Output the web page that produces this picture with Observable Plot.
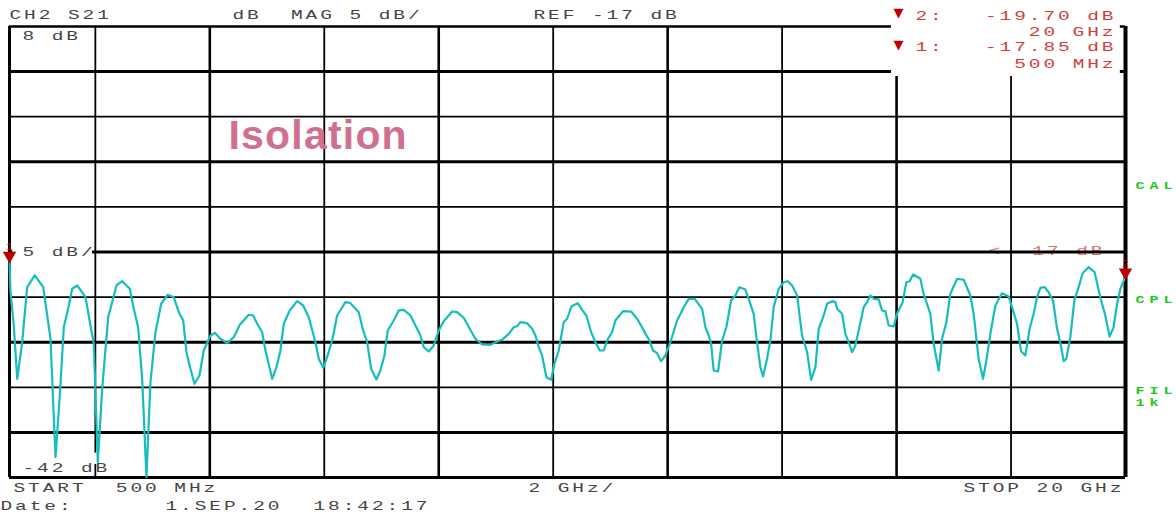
<!DOCTYPE html>
<html><head><meta charset="utf-8">
<script src="https://cdn.jsdelivr.net/npm/d3@7"></script>
<script src="https://cdn.jsdelivr.net/npm/@observablehq/plot@0.6"></script>
<style>
html,body{margin:0;padding:0;background:#fff;overflow:hidden}
#chart svg{display:block;background:#fff}
</style>
</head><body><div id="chart"></div>
<script>
// Frequency (GHz) and S21 magnitude (dB)
const freqGHz = [0.5,0.517,0.575,0.635,0.722,0.809,0.942,1.089,1.216,1.304,1.379,1.449,1.536,1.595,1.683,1.828,1.915,1.973,2.043,2.120,2.224,2.294,2.369,2.469,2.602,2.672,2.748,2.818,2.893,2.963,3.051,3.150,3.266,3.370,3.458,3.535,3.592,3.662,3.732,3.819,3.894,4.011,4.087,4.186,4.303,4.419,4.524,
4.681,4.758,4.828,4.915,4.972,5.090,5.165,5.234,5.292,5.397,5.526,5.631,5.729,5.846,5.904,5.981,6.050,6.138,6.225,6.370,6.457,6.602,6.679,6.749,6.819,6.911,6.981,7.051,7.109,7.214,7.301,7.389,7.506,7.593,7.680,7.738,7.825,7.913,8.000,8.087,8.234,8.321,8.437,8.542,
8.641,8.758,8.903,9.021,9.108,9.223,9.311,9.370,9.427,9.545,9.632,9.690,9.747,9.806,9.882,9.964,10.021,10.097,10.184,10.244,10.318,10.428,10.505,10.580,10.663,10.738,10.813,10.883,10.942,11.029,11.087,11.221,11.361,11.466,11.553,11.611,11.669,11.746,11.815,11.885,11.961,12.048,12.165,12.281,12.368,12.473,
12.602,12.660,12.718,12.759,12.805,12.881,12.951,13.026,13.108,13.183,13.253,13.358,13.416,13.503,13.562,13.620,13.667,13.737,13.795,13.853,13.940,14.028,14.098,14.174,14.262,14.349,14.437,14.507,14.582,14.640,14.717,14.786,14.874,14.932,14.961,15.048,15.105,15.163,15.223,15.280,15.338,15.425,15.485,15.542,15.600,15.687,15.746,15.804,15.862,15.949,16.008,16.106,
16.171,16.228,16.288,16.416,16.473,16.590,16.648,16.736,16.795,16.870,16.940,17.057,17.173,17.289,17.347,17.434,17.511,17.569,17.639,17.726,17.843,17.958,18.017,18.105,18.175,18.250,18.325,18.395,18.454,18.512,18.587,18.657,18.734,18.804,18.861,18.919,18.966,19.036,19.106,19.181,19.251,19.355,19.460,19.560,19.647,19.722,19.792,19.852,19.910,20.0];
const magDB = [-17.85,-21.46,-25.15,-31.06,-27.0,-20.90,-19.60,-20.90,-26.59,-39.75,-32.91,-25.34,-22.93,-21.08,-20.71,-22.01,-25.15,-27.18,-40.30,-32.13,-24.23,-22.56,-20.71,-20.24,-21.08,-23.30,-25.34,-31.06,-41.96,-31.43,-25.89,-22.74,-21.74,-22.01,-23.67,-24.59,-28.11,-29.95,-31.61,-30.69,-27.92,-26.26,-25.96,-26.62,-27.11,-26.44,-25.07,
-23.96,-24.04,-24.96,-25.89,-27.92,-31.06,-29.77,-27.92,-24.96,-23.48,-22.45,-22.93,-24.23,-27.0,-28.84,-29.84,-28.66,-26.81,-24.04,-22.56,-22.67,-23.67,-25.70,-27.0,-29.95,-31.13,-30.14,-28.47,-25.70,-24.59,-23.48,-23.41,-24.04,-25.15,-26.26,-27.55,-28.03,-27.36,-25.70,-24.67,-23.60,-23.67,-24.29,-25.51,
-26.62,-27.25,-27.29,-26.92,-26.73,-26.07,-25.34,-25.22,-24.78,-24.89,-25.51,-26.26,-27.55,-28.47,-30.88,-31.17,-29.39,-27.92,-24.78,-24.40,-23.04,-22.67,-23.41,-24.04,-25.89,-27.0,-27.92,-27.92,-26.81,-25.89,-24.59,-23.56,-23.60,-24.40,-25.34,-26.07,-26.62,-27.92,-28.22,-29.10,-28.47,-27.0,-24.59,-23.12,-22.19,-22.19,
-23.30,-25.34,-26.26,-27.18,-30.14,-30.25,-26.81,-25.34,-22.38,-21.82,-20.90,-21.16,-22.19,-23.85,-27.0,-29.77,-30.80,-28.84,-26.81,-23.12,-21.08,-20.35,-20.24,-20.71,-21.82,-26.26,-28.11,-31.17,-29.77,-25.51,-24.23,-22.74,-22.45,-22.56,-23.30,-23.85,-26.07,-27.0,-28.11,-27.36,-25.70,-23.12,-22.56,-21.82,-22.19,-22.26,-23.48,-23.56,-25.15,-25.26,-23.85,-22.56,
-20.35,-20.24,-19.49,-19.97,-21.63,-23.85,-27.18,-30.14,-26.62,-24.78,-21.63,-19.97,-20.08,-21.82,-23.85,-28.84,-31.06,-29.03,-26.07,-22.93,-21.57,-21.93,-23.12,-24.96,-28.0,-28.47,-25.51,-23.85,-22.01,-20.97,-20.90,-21.46,-22.38,-25.51,-27.0,-29.10,-28.84,-26.44,-22.38,-20.90,-19.35,-18.68,-19.24,-22.01,-24.04,-26.37,-25.34,-22.74,-21.08,-19.70];

const xDomain = [0.5, 20];          // START 500 MHz .. STOP 20 GHz
const yDomain = [-42, 8];           // -42 dB .. 8 dB (5 dB/div, REF -17 dB)
const xGridThin = [2, 6, 10, 14, 18];
const xGridThick = [4, 8, 12, 16];
const yGridThick = [3, -7, -17, -27, -37];
const yGridThin = [-2, -12, -22, -32];
const markerNames = ["1", "2"];
const markerFreq = [0.5, 20];
const markerMag = [-17.85, -19.70];

const trace = freqGHz.map((f, i) => ({f, db: magDB[i]}));
const markers = markerNames.map((n, i) => ({n, f: markerFreq[i], db: markerMag[i]}));

const RED = "#d23c3c", DARKRED = "#c00000", GREEN = "#1ec81e", INK = "#444";
const mono = (txt, dx, dy, o = {}) => Plot.text([txt], {
  text: d => d, frameAnchor: "top-left", dx, dy, textAnchor: "start", lineAnchor: "middle",
  fontFamily: "Liberation Mono", fontSize: 13, fill: INK, ariaDescription: "mono", ...o
});
const small = (txt, dx, dy) => Plot.text([txt], {
  text: d => d, frameAnchor: "top-left", dx, dy, textAnchor: "start", lineAnchor: "middle",
  fontFamily: "Liberation Mono", fontSize: 10, fontWeight: "bold", fill: GREEN, ariaDescription: "monosmall"
});
const tri = (dx, dy) => Plot.text(["\u25BC"], {text: d => d, frameAnchor: "top-left", dx, dy, fill: DARKRED,
  fontSize: 13, fontFamily: "DejaVu Sans", textAnchor: "middle", lineAnchor: "middle"});
const white = (x1, x2, y1, y2) => Plot.rect([0], {x1: () => x1, x2: () => x2, y1: () => y1, y2: () => y2, fill: "white"});

const chart = Plot.plot({
  width: 1176, height: 515,
  marginLeft: 9, marginRight: 51, marginTop: 26, marginBottom: 38,
  x: {domain: xDomain, axis: null},
  y: {domain: yDomain, axis: null},
  style: {background: "white"},
  marks: [
    mono("< -17 dB", 979, 224, {fill: "#e07070"}),
    Plot.ruleX(xGridThin, {stroke: "black", strokeWidth: 1.8}),
    Plot.ruleX(xGridThick, {stroke: "black", strokeWidth: 2.6}),
    Plot.ruleY(yGridThin, {stroke: "black", strokeWidth: 1.8}),
    Plot.ruleY(yGridThick, {stroke: "black", strokeWidth: 3}),
    Plot.ruleX([xDomain[0]], {stroke: "black", strokeWidth: 3}),
    Plot.ruleX([xDomain[1]], {stroke: "black", strokeWidth: 4}),
    Plot.ruleY([yDomain[1]], {stroke: "black", strokeWidth: 2.6}),
    Plot.ruleY([yDomain[0]], {stroke: "black", strokeWidth: 3}),
    white(15.91, 19.91, 2.45, 11),
    white(0.56, 1.95, -16.45, -17.55),
    white(0.56, 2.2, -39.3, -40.55),
    // header
    mono("CH2 S21", 0, -12),
    mono("dB  MAG 5 dB/", 223, -12),
    mono("REF -17 dB", 524, -12),
    // marker readout
    tri(889, -14),
    tri(889, 18),
    mono("2:", 906, -11, {fill: RED}),
    mono("-19.70 dB", 1107, -11, {fill: RED, textAnchor: "end"}),
    mono("20 GHz", 1107, 5.7, {fill: RED, textAnchor: "end"}),
    mono("1:", 906, 20.7, {fill: RED}),
    mono("-17.85 dB", 1107, 20.7, {fill: RED, textAnchor: "end"}),
    mono("500 MHz", 1107, 37.3, {fill: RED, textAnchor: "end"}),
    // scale labels
    mono("8 dB", 13, 9),
    mono("5 dB/", 13, 225),
    mono("-42 dB", 13, 441),
    mono("START  500 MHz", 4, 461),
    mono("2 GHz/", 519, 461),
    mono("STOP 20 GHz", 954, 461),
    mono("Date:", -9, 479),
    mono("1.SEP.20", 156, 479),
    mono("18:42:17", 304, 479),
    small("CAL", 1126, 159),
    small("CPL", 1126, 273),
    small("FIL", 1126, 364),
    small("1k", 1126, 376),
    Plot.text(["Isolation"], {text: d => d, frameAnchor: "top-left", dx: 219, dy: 109, textAnchor: "start", lineAnchor: "middle",
      fontFamily: "Liberation Sans", fontWeight: "bold", fontSize: 41, fill: "#d0708f", ariaDescription: "title"}),
    // trace
    Plot.line(trace, {x: "f", y: "db", stroke: "#15bdbd", strokeWidth: 2.2, curve: "linear"}),
    // markers
    Plot.dot(markers, {x: "f", y: "db", symbol: "triangle", rotate: 180, r: 5, fill: DARKRED, dy: -4}),
    Plot.text(markers, {x: "f", y: "db", text: "n", dy: -13, fill: DARKRED, fontSize: 10, fontFamily: "Liberation Mono", textAnchor: "middle"})
  ]
});

function stretch(t, sx, ls) {
  let tr = t.getAttribute("transform");
  if (!tr) {
    const x = +t.getAttribute("x") || 0, y = +t.getAttribute("y") || 0;
    t.removeAttribute("x"); t.removeAttribute("y");
    tr = `translate(${x},${y})`;
  }
  t.setAttribute("transform", tr + ` scale(${sx},1)`);
  t.style.letterSpacing = ls;
}
const pick = (desc) => Array.from(chart.querySelectorAll("g")).filter(g => g.getAttribute("aria-description") === desc);
pick("mono").forEach(g => g.querySelectorAll("text").forEach(t => stretch(t, 1.5, "1.95px")));
pick("monosmall").forEach(g => g.querySelectorAll("text").forEach(t => stretch(t, 1.5, "3.3px")));
pick("title").forEach(g => g.querySelectorAll("text").forEach(t => t.style.letterSpacing = "1.2px"));
document.getElementById("chart").appendChild(chart);
</script>
</body></html>
